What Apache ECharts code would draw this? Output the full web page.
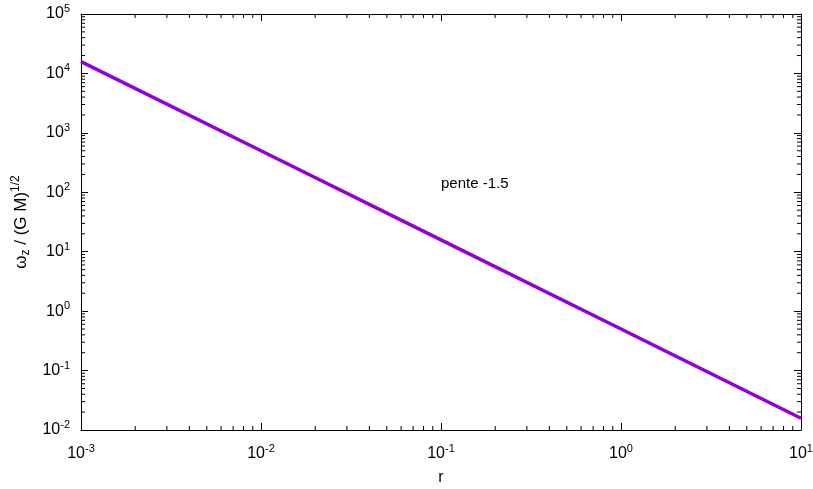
<!DOCTYPE html>
<html>
<head>
<meta charset="utf-8">
<script src="https://cdn.jsdelivr.net/npm/echarts@6/dist/echarts.min.js"></script>
<style>
  html, body { margin: 0; padding: 0; background: #fff; }
  #chart { width: 813px; height: 489px; }
</style>
</head>
<body>
<div id="chart"></div>
<script>
// values (log-log, slope -1.5)
const rValues = [0.001, 0.01, 0.1, 1, 10];
const omegaValues = [15800, 500, 15.8, 0.5, 0.0158];
const xDecades = [-3, -2, -1, 0, 1];
const yDecades = [-2, -1, 0, 1, 2, 3, 4, 5];
const noteText = 'pente -1.5';
const notePos = [0.1, 140];

const font = '"Liberation Sans", Arial, Helvetica, sans-serif';

// minor ticks at 2..9 x 10^k (gnuplot style)
const minorTicks = [];
xDecades.slice(0, -1).forEach(k => {
  for (let m = 2; m <= 9; m++) minorTicks.push([m * Math.pow(10, k), 1, 0]);
});
yDecades.slice(0, -1).forEach(k => {
  for (let m = 2; m <= 9; m++) minorTicks.push([1, m * Math.pow(10, k), 1]);
});

function powLabel(v) {
  const e = Math.round(Math.log10(v));
  return '10{s|' + e + '}';
}
const labelRich = {
  s: { fontSize: 11, fontFamily: font, color: '#000', padding: [0, 0, 10, 0] }
};

const chart = echarts.init(document.getElementById('chart'));

const baseX = {
  type: 'log', logBase: 10, min: 0.001, max: 10, interval: 1,
  axisLine: { show: true, onZero: false, lineStyle: { color: '#000', width: 1 } },
  axisTick: { show: true, inside: true, length: 7, lineStyle: { color: '#000' } },
  splitLine: { show: false }
};
const baseY = {
  type: 'log', logBase: 10, min: 0.01, max: 100000, interval: 1,
  axisLine: { show: true, onZero: false, lineStyle: { color: '#000', width: 1 } },
  axisTick: { show: true, inside: true, length: 7, lineStyle: { color: '#000' } },
  splitLine: { show: false }
};

chart.setOption({
  animation: false,
  grid: { left: 81, right: 12, top: 14, bottom: 59, containLabel: false, outerBoundsMode: 'none' },
  xAxis: [
    Object.assign({}, baseX, {
      position: 'bottom',
      name: 'r', nameLocation: 'middle', nameGap: 40,
      nameTextStyle: { fontSize: 16, fontFamily: font, color: '#000' },
      axisLabel: { margin: 13, fontSize: 16, fontFamily: font, color: '#000', formatter: powLabel, rich: labelRich }
    }),
    Object.assign({}, baseX, { position: 'top', axisLabel: { show: false } })
  ],
  yAxis: [
    Object.assign({}, baseY, {
      position: 'left',
      name: 'ω{sub|z} / (G M){sup|1/2}', nameLocation: 'middle', nameGap: 47,
      nameTextStyle: {
        fontSize: 17, fontFamily: font, color: '#000',
        rich: {
          sub: { fontSize: 12, fontFamily: font, color: '#000', padding: [9, 0, 0, 0] },
          sup: { fontSize: 12, fontFamily: font, color: '#000', padding: [0, 0, 11, 0] }
        }
      },
      axisLabel: { margin: 11, fontSize: 16, fontFamily: font, color: '#000', formatter: powLabel, rich: labelRich }
    }),
    Object.assign({}, baseY, { position: 'right', axisLabel: { show: false } })
  ],
  series: [
    {
      type: 'line',
      data: rValues.map((r, i) => [r, omegaValues[i]]),
      symbol: 'none',
      lineStyle: { color: '#9400d3', width: 3.5 },
      markPoint: {
        symbol: 'circle', symbolSize: 0,
        data: [{ coord: notePos }],
        label: { show: true, position: 'right', distance: 0, formatter: noteText, fontSize: 15, fontFamily: font, color: '#000' }
      }
    },
    {
      type: 'custom',
      data: minorTicks,
      clip: false,
      silent: true,
      renderItem: function (params, api) {
        const cs = params.coordSys;
        const style = { stroke: '#000', lineWidth: 1 };
        if (api.value(2) === 0) {
          const x = api.coord([api.value(0), 1])[0];
          return {
            type: 'group', children: [
              { type: 'line', shape: { x1: x, y1: cs.y + cs.height, x2: x, y2: cs.y + cs.height - 4 }, style: style },
              { type: 'line', shape: { x1: x, y1: cs.y, x2: x, y2: cs.y + 4 }, style: style }
            ]
          };
        }
        const y = api.coord([1, api.value(1)])[1];
        return {
          type: 'group', children: [
            { type: 'line', shape: { x1: cs.x, y1: y, x2: cs.x + 4, y2: y }, style: style },
            { type: 'line', shape: { x1: cs.x + cs.width, y1: y, x2: cs.x + cs.width - 4, y2: y }, style: style }
          ]
        };
      }
    }
  ]
});
</script>
</body>
</html>
